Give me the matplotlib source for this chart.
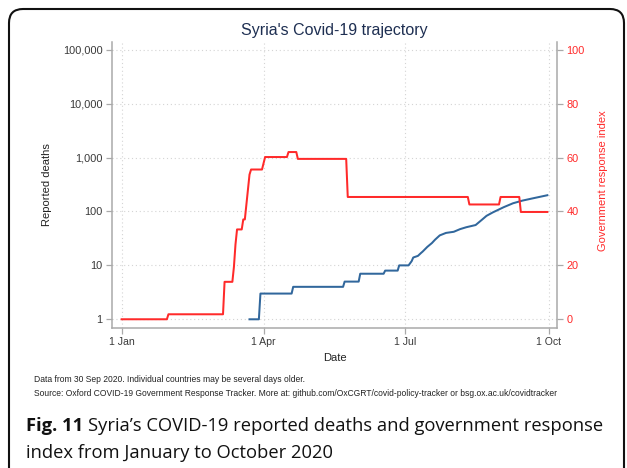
import matplotlib
matplotlib.use("Agg")
import matplotlib.pyplot as plt
from matplotlib.patches import FancyBboxPatch
from matplotlib.ticker import FixedLocator, FixedFormatter, NullLocator
import pandas as pd

# Oxford government response index (daily change points)
gov_dates = ["2020-01-01", "2020-01-30", "2020-01-31", "2020-03-06", "2020-03-07",
             "2020-03-12", "2020-03-13", "2020-03-14", "2020-03-15", "2020-03-18",
             "2020-03-19", "2020-03-20", "2020-03-23", "2020-03-24", "2020-03-31",
             "2020-04-02", "2020-04-16", "2020-04-17", "2020-04-22", "2020-04-23",
             "2020-05-24", "2020-05-25", "2020-08-10", "2020-08-11", "2020-08-30",
             "2020-08-31", "2020-09-12", "2020-09-13", "2020-09-30"]
gov_index = [0, 0, 1.85, 1.85, 13.89,
             13.89, 19.44, 27.78, 33.33, 33.33,
             37.04, 37.04, 53.70, 55.56, 55.56,
             60.19, 60.19, 62.04, 62.04, 59.50,
             59.50, 45.37, 45.37, 42.59, 42.59,
             45.37, 45.37, 39.81, 39.81]

# Cumulative reported deaths
death_dates = ["2020-03-23", "2020-03-29", "2020-03-30", "2020-04-19", "2020-04-20",
               "2020-05-22", "2020-05-23", "2020-06-01", "2020-06-02", "2020-06-17",
               "2020-06-18", "2020-06-26", "2020-06-27", "2020-07-03", "2020-07-05",
               "2020-07-06", "2020-07-09", "2020-07-11", "2020-07-12", "2020-07-15",
               "2020-07-18", "2020-07-20", "2020-07-23", "2020-07-27", "2020-08-01",
               "2020-08-05", "2020-08-09", "2020-08-15", "2020-08-19", "2020-08-22",
               "2020-08-26", "2020-09-02", "2020-09-08", "2020-09-14", "2020-09-21",
               "2020-09-30"]
deaths = [1, 1, 3, 3, 4,
          4, 5, 5, 7, 7,
          8, 8, 10, 10, 12,
          14, 15, 17, 18, 22,
          26, 30, 36, 40, 42,
          47, 51, 56, 70, 83,
          96, 120, 142, 159, 176,
          200]

death_ticks = [1, 10, 100, 1000, 10000, 100000]
death_tick_labels = ["1", "10", "100", "1,000", "10,000", "100,000"]
index_ticks = [0, 20, 40, 60, 80, 100]
date_ticks = ["2020-01-01", "2020-04-01", "2020-07-01", "2020-10-01"]
date_tick_labels = ["1 Jan", "1 Apr", "1 Jul", "1 Oct"]

W, H = 627, 468
plt.rcParams["font.family"] = ["Liberation Sans", "DejaVu Sans"]
fig = plt.figure(figsize=(W / 100, H / 100), dpi=100)
fig.patch.set_facecolor("white")

ax = fig.add_axes([112.3 / W, 1 - 327.7 / H, (556.7 - 112.3) / W, (327.7 - 41.7) / H])
ax2 = ax.twinx()

spine_col = "#a9a9a9"
grid_col = "#d4d4d4"
tick_col = "#3a3a3a"
red = "#ff2a2a"
blue = "#31679c"

ax.plot(pd.to_datetime(death_dates), deaths, color=blue, lw=1.45, solid_joinstyle="round", zorder=3)
ax2.plot(pd.to_datetime(gov_dates), gov_index, color=red, lw=1.45, solid_joinstyle="round", zorder=3)

ax.set_yscale("log")
ax.set_ylim(10 ** -0.156, 10 ** 5.149)
ax.yaxis.set_major_locator(FixedLocator(death_ticks))
ax.yaxis.set_major_formatter(FixedFormatter(death_tick_labels))
ax.yaxis.set_minor_locator(NullLocator())
ax2.set_ylim(-3.13, 102.98)
ax2.set_yticks(index_ticks)
ax2.set_yticklabels([str(v) for v in index_ticks])

ax.set_xlim(pd.Timestamp("2019-12-26"), pd.Timestamp("2020-10-06"))
ax.set_xticks(pd.to_datetime(date_ticks))
ax.set_xticklabels(date_tick_labels)
ax.xaxis.set_minor_locator(NullLocator())

ax.grid(True, which="major", color=grid_col, lw=0.8, ls=(0, (1, 2.5)))
ax.set_axisbelow(True)

for a in (ax, ax2):
    a.spines["top"].set_visible(False)
    for s in a.spines.values():
        s.set_color(spine_col)
        s.set_linewidth(1.1)
ax.spines["right"].set_visible(False)
ax2.spines["left"].set_visible(False)
ax2.spines["bottom"].set_visible(False)

ax.tick_params(axis="x", colors=spine_col, length=4.5, width=0.9, labelsize=7.6,
               labelcolor=tick_col, pad=2.5)
ax.tick_params(axis="y", colors=spine_col, length=4.5, width=0.9, labelsize=7.9,
               labelcolor=tick_col, pad=2.5)
ax2.tick_params(axis="y", colors=spine_col, length=4.5, width=0.9, labelsize=7.9,
                labelcolor=red, pad=2.5)

# Titles and axis labels
fig.text(334.5 / W, 1 - 30 / H, "Syria's Covid-19 trajectory", ha="center", va="center",
         fontsize=11.5, color="#1e2f52")
fig.text(334.5 / W, 1 - 358 / H, "Date", ha="center", va="center", fontsize=8, color="#222222")
fig.text(47 / W, 1 - 185 / H, "Reported deaths", ha="center", va="center", rotation=90,
         fontsize=8, color="#222222")
fig.text(603 / W, 1 - 181 / H, "Government response index", ha="center", va="center",
         rotation=90, fontsize=8, color=red)

# Notes
fig.text(34 / W, 1 - 380 / H, "Data from 30 Sep 2020. Individual countries may be several days older.",
         ha="left", va="center", fontsize=6.15, color="#222222")
fig.text(34 / W, 1 - 393 / H,
         "Source: Oxford COVID-19 Government Response Tracker. More at: "
         "github.com/OxCGRT/covid-policy-tracker or bsg.ox.ac.uk/covidtracker",
         ha="left", va="center", fontsize=6.15, color="#222222")

# Caption
cap_size = 13.2
t = fig.text(26 / W, 1 - 426 / H, "Fig. 11", ha="left", va="center", fontsize=cap_size,
             fontweight="bold", family="Open Sans", color="#111111")
fig.canvas.draw()
bb = t.get_window_extent()
fig.text((bb.x1 + 5) / W, 1 - 426 / H,
         "Syria\u2019s COVID-19 reported deaths and government response",
         ha="left", va="center", fontsize=cap_size, family="Open Sans", color="#111111")
fig.text(26 / W, 1 - 453 / H, "index from January to October 2020", ha="left", va="center",
         fontsize=cap_size, family="Open Sans", color="#111111")

# Rounded frame around the figure panel
frame = FancyBboxPatch((9 / 100, -0.3), (624 - 9) / 100, (H - 9) / 100 + 0.3,
                       boxstyle="round,pad=0,rounding_size=0.14",
                       transform=fig.dpi_scale_trans, fill=False,
                       edgecolor="#111111", lw=1.5)
fig.patches.append(frame)

fig.savefig("out.png", dpi=100)
